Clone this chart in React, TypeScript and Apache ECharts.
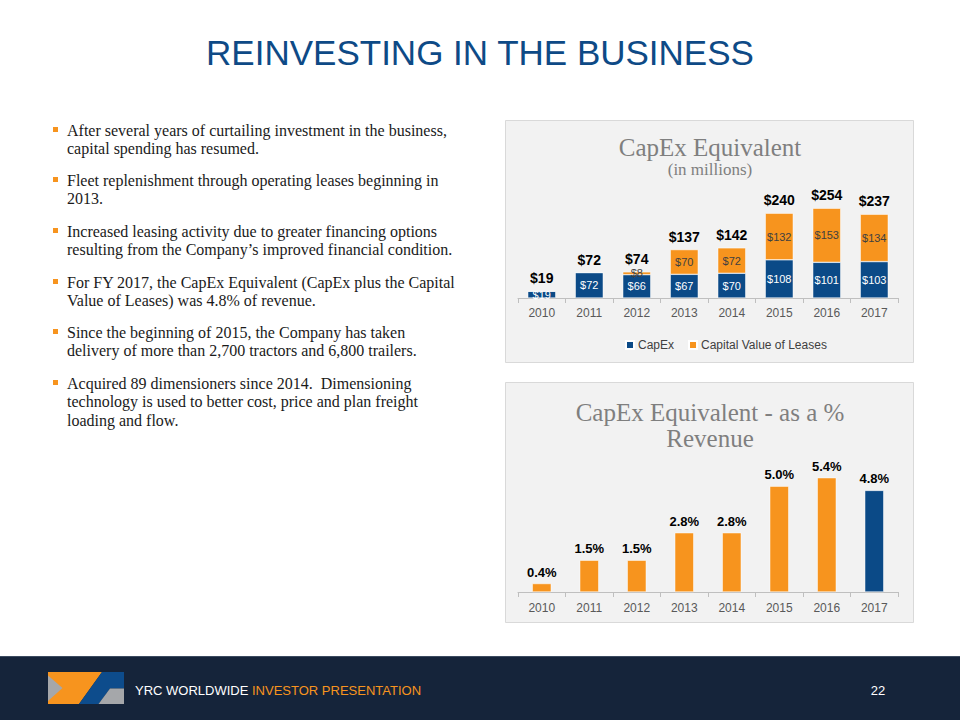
import React, { useEffect, useRef } from "react";
import * as echarts from "echarts";

const years = ["2010", "2011", "2012", "2013", "2014", "2015", "2016", "2017"];
const capex = [19, 72, 66, 67, 70, 108, 101, 103];
const leases = [0, 0, 8, 70, 72, 132, 153, 134];
const pctRevenue = [0.4, 1.5, 1.5, 2.8, 2.8, 5.0, 5.4, 4.8];

const bullets = [
  ["After several years of curtailing investment in the business,", "capital spending has resumed."],
  ["Fleet replenishment through operating leases beginning in", "2013."],
  ["Increased leasing activity due to greater financing options", "resulting from the Company\u2019s improved financial condition."],
  ["For FY 2017, the CapEx Equivalent (CapEx plus the Capital", "Value of Leases) was 4.8% of revenue."],
  ["Since the beginning of 2015, the Company has taken", "delivery of more than 2,700 tractors and 6,800 trailers."],
  ["Acquired 89 dimensioners since 2014.  Dimensioning", "technology is used to better cost, price and plan freight", "loading and flow."],
];

const BLUE = "#0B4A87";
const ORANGE = "#F7941E";
const GREY_T = "#7F7F7F";

export default function App() {
  const ref = useRef<HTMLDivElement>(null);
  useEffect(() => {
    if (!ref.current) return;
    const chart = echarts.init(ref.current, undefined, { renderer: "svg" });
    const totals = capex.map((v, i) => v + leases[i]);

    const graphic: any[] = [];
    // panels
    graphic.push({ type: "rect", z: -10, shape: { x: 505.5, y: 120.5, width: 408, height: 242 }, style: { fill: "#F2F2F2", stroke: "#D9D9D9", lineWidth: 1 } });
    graphic.push({ type: "rect", z: -10, shape: { x: 505.5, y: 382.5, width: 408, height: 240 }, style: { fill: "#F2F2F2", stroke: "#D9D9D9", lineWidth: 1 } });
    // page title
    graphic.push({ type: "text", x: 480, y: 52, style: { text: "REINVESTING IN THE BUSINESS", fill: "#0E4A86", font: "35px 'Liberation Sans', Arial, sans-serif", textAlign: "center", textVerticalAlign: "middle" } });
    // chart titles
    const serif = "'Liberation Serif', 'Times New Roman', serif";
    graphic.push({ type: "text", x: 710, y: 147, style: { text: "CapEx Equivalent", fill: GREY_T, font: `25px ${serif}`, textAlign: "center", textVerticalAlign: "middle" } });
    graphic.push({ type: "text", x: 710, y: 169, style: { text: "(in millions)", fill: GREY_T, font: `17px ${serif}`, textAlign: "center", textVerticalAlign: "middle" } });
    graphic.push({ type: "text", x: 710, y: 412, style: { text: "CapEx Equivalent - as a %", fill: GREY_T, font: `25px ${serif}`, textAlign: "center", textVerticalAlign: "middle" } });
    graphic.push({ type: "text", x: 710, y: 438, style: { text: "Revenue", fill: GREY_T, font: `25px ${serif}`, textAlign: "center", textVerticalAlign: "middle" } });
    // bullets
    const starts = [130, 180, 231, 282, 332, 383];
    bullets.forEach((lines, bi) => {
      graphic.push({ type: "rect", shape: { x: 53, y: starts[bi] - 3, width: 5, height: 5 }, style: { fill: ORANGE } });
      lines.forEach((ln, li) => {
        graphic.push({ type: "text", x: 67, y: starts[bi] + li * 18.5, style: { text: ln, fill: "#1A1A1A", font: `16px ${serif}`, textAlign: "left", textVerticalAlign: "middle" } });
      });
    });
    // footer
    graphic.push({ type: "rect", z: -5, shape: { x: 0, y: 656, width: 960, height: 64 }, style: { fill: "#15243A" } });
    graphic.push({ type: "rect", z: -4, shape: { x: 0, y: 656, width: 960, height: 1 }, style: { fill: "#3C4B60" } });
    graphic.push({ type: "polygon", shape: { points: [[48, 672], [102, 672], [79, 704], [48, 704]] }, style: { fill: ORANGE } });
    graphic.push({ type: "polygon", shape: { points: [[48, 675.5], [62.5, 688], [48, 701]] }, style: { fill: "#A5A7AA" } });
    graphic.push({ type: "polygon", shape: { points: [[102, 672], [124, 672], [124, 688.5], [110, 688.5], [98.5, 704], [79, 704]] }, style: { fill: "#0D4C8C" } });
    graphic.push({ type: "polygon", shape: { points: [[110, 688.5], [124, 688.5], [124, 704], [98.5, 704]] }, style: { fill: "#A5A7AA" } });
    graphic.push({
      type: "text", x: 135, y: 690,
      style: {
        text: "{w|YRC WORLDWIDE }{o|INVESTOR PRESENTATION}",
        textVerticalAlign: "middle",
        rich: {
          w: { fill: "#FFFFFF", font: "13px 'Liberation Sans', Arial, sans-serif" },
          o: { fill: ORANGE, font: "13px 'Liberation Sans', Arial, sans-serif" },
        },
      },
    });
    graphic.push({ type: "text", x: 878, y: 690, style: { text: "22", fill: "#FFFFFF", font: "13px 'Liberation Sans', Arial, sans-serif", textAlign: "center", textVerticalAlign: "middle" } });

    const axisCommon = {
      type: "category",
      data: years,
      axisLine: { lineStyle: { color: "#BFBFBF" } },
      axisTick: { show: true, alignWithLabel: false, length: 5, lineStyle: { color: "#BFBFBF" } },
      axisLabel: { color: "#595959", fontSize: 12, fontFamily: "'Liberation Sans', Arial, sans-serif" },
    };

    chart.setOption({
      animation: false,
      backgroundColor: "#FFFFFF",
      textStyle: { fontFamily: "'Liberation Sans', Arial, sans-serif" },
      graphic,
      legend: {
        data: ["CapEx", "Capital Value of Leases"],
        left: 620,
        top: 334,
        itemWidth: 8,
        itemHeight: 8,
        itemGap: 14,
        icon: "rect",
        textStyle: { color: "#404040", fontSize: 12, padding: [0, 0, 0, -1] },
      },
      grid: [
        { left: 518, width: 380, top: 192, height: 106 },
        { left: 518, width: 380, top: 465, height: 127 },
      ],
      xAxis: [
        { ...axisCommon, gridIndex: 0, axisLabel: { ...axisCommon.axisLabel, margin: 9 } },
        { ...axisCommon, gridIndex: 1, axisLabel: { ...axisCommon.axisLabel, margin: 10 } },
      ],
      yAxis: [
        { type: "value", gridIndex: 0, min: 0, max: 300, show: false },
        { type: "value", gridIndex: 1, min: 0, max: 6, show: false },
      ],
      series: [
        {
          name: "CapEx",
          type: "bar",
          stack: "eq",
          xAxisIndex: 0,
          yAxisIndex: 0,
          barWidth: 28,
          data: capex,
          itemStyle: { color: BLUE, borderColor: "#FFFFFF", borderWidth: 0.5 },
          label: { show: true, position: "inside", color: "#FFFFFF", fontSize: 11, formatter: (p: any) => "$" + p.value },
        },
        {
          name: "Capital Value of Leases",
          type: "bar",
          stack: "eq",
          xAxisIndex: 0,
          yAxisIndex: 0,
          barWidth: 28,
          data: leases.map((v) => (v > 0 && v < 15 ? { value: v, label: { position: "top", distance: -7 } } : v)),
          itemStyle: { color: ORANGE, borderColor: "#FFFFFF", borderWidth: 0.5 },
          label: { show: true, position: "inside", color: "#404040", fontSize: 11, formatter: (p: any) => (p.value > 0 ? "$" + p.value : "") },
        },
        {
          name: "Total",
          type: "bar",
          xAxisIndex: 0,
          yAxisIndex: 0,
          barWidth: 28,
          barGap: "-100%",
          z: 1,
          silent: true,
          data: totals,
          itemStyle: { color: "rgba(0,0,0,0)" },
          label: { show: true, position: "top", distance: 6, color: "#000000", fontSize: 14, fontWeight: "bold", formatter: (p: any) => "$" + p.value },
        },
        {
          name: "Pct",
          type: "bar",
          xAxisIndex: 1,
          yAxisIndex: 1,
          barWidth: 19,
          data: pctRevenue.map((v, i) => ({ value: v, itemStyle: { color: i === pctRevenue.length - 1 ? BLUE : ORANGE } })),
          itemStyle: { borderColor: "#FFFFFF", borderWidth: 0.5 },
          label: { show: true, position: "top", distance: 5, color: "#000000", fontSize: 13, fontWeight: "bold", formatter: (p: any) => p.value.toFixed(1) + "%" },
        },
      ],
    });
    return () => chart.dispose();
  }, []);
  return <div ref={ref} style={{ position: "fixed", left: 0, top: 0, width: 960, height: 720 }} />;
}
